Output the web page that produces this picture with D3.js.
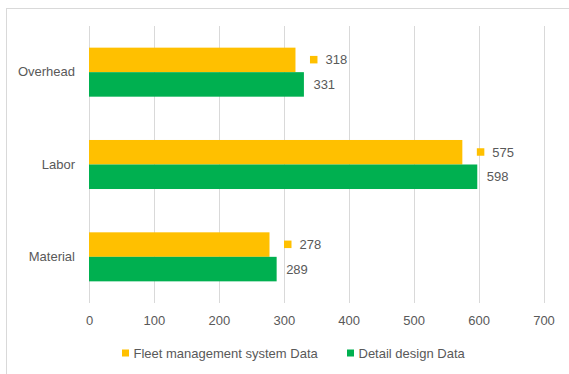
<!DOCTYPE html>
<html>
<head>
<meta charset="utf-8">
<script src="https://cdn.jsdelivr.net/npm/d3@7"></script>
<style>
  html, body { margin: 0; padding: 0; background: #fff; }
  svg { display: block; font-family: "Liberation Sans", Arial, sans-serif; }
</style>
</head>
<body>
<svg id="chart" width="569" height="374"></svg>
<script>
// Cost categories, top to bottom
const categories = ["Overhead", "Labor", "Material"];
// Series values per category
const fleetValues = [318, 575, 278];
const detailValues = [331, 598, 289];
// Series names
const seriesNames = ["Fleet management system Data", "Detail design Data"];
// Axis ticks
const xTicks = [0, 100, 200, 300, 400, 500, 600, 700];

const colors = ["#FFC000", "#00B050"];
const textColor = "#595959";
const gridColor = "#d9d9d9";

const svg = d3.select("#chart");

// Chart frame
svg.append("rect")
  .attr("x", 6.5).attr("y", 8.5)
  .attr("width", 600).attr("height", 400)
  .attr("fill", "none").attr("stroke", gridColor);

const x = d3.scaleLinear().domain([0, 700]).range([89, 543.5]);
const y = d3.scaleBand().domain(categories).range([26, 303])
  .paddingInner(0.469).paddingOuter(0.2345);
const sub = d3.scaleBand().domain([0, 1]).range([0, y.bandwidth()]);

// Vertical gridlines
svg.append("g").selectAll("line").data(xTicks).join("line")
  .attr("x1", d => Math.round(x(d)) + 0.5).attr("x2", d => Math.round(x(d)) + 0.5)
  .attr("y1", 26).attr("y2", 303)
  .attr("stroke", gridColor).attr("stroke-width", 1);

// Bottom axis labels
const xAxis = d3.axisBottom(x).tickValues(xTicks).tickSize(0).tickPadding(0);
const gx = svg.append("g").attr("transform", "translate(0,316)").call(xAxis);
gx.select(".domain").remove();
gx.selectAll("text")
  .attr("fill", textColor).attr("font-size", 13).attr("dy", "0.71em")
  .attr("font-family", "Liberation Sans, Arial, sans-serif");

// Category labels
const yAxis = d3.axisLeft(y).tickSize(0).tickPadding(0);
const gy = svg.append("g").attr("transform", "translate(75,0)").call(yAxis);
gy.select(".domain").remove();
gy.selectAll("text")
  .attr("fill", textColor).attr("font-size", 13)
  .attr("font-family", "Liberation Sans, Arial, sans-serif");

const rows = categories.map((c, i) => ({ cat: c, vals: [fleetValues[i], detailValues[i]] }));

// Bars
rows.forEach(r => {
  r.vals.forEach((v, s) => {
    svg.append("rect")
      .attr("x", x(0))
      .attr("y", y(r.cat) + sub(s))
      .attr("width", x(v) - x(0))
      .attr("height", sub.bandwidth())
      .attr("fill", colors[s]);
  });
});

// Value labels (first series carries a small legend key)
rows.forEach(r => {
  r.vals.forEach((v, s) => {
    const cy = y(r.cat) + sub(s) + sub.bandwidth() / 2;
    if (s === 0) {
      svg.append("rect")
        .attr("x", x(v) + 14.5).attr("y", cy - 4)
        .attr("width", 7.5).attr("height", 7.5)
        .attr("fill", colors[s]);
      svg.append("text")
        .attr("x", x(v) + 30).attr("y", cy).attr("dy", "0.35em")
        .attr("fill", textColor).attr("font-size", 13).text(v);
    } else {
      svg.append("text")
        .attr("x", x(v) + 9.5).attr("y", cy).attr("dy", "0.35em")
        .attr("fill", textColor).attr("font-size", 13).text(v);
    }
  });
});

// Legend
const legendX = [122, 347];
seriesNames.forEach((name, i) => {
  const g = svg.append("g").attr("transform", `translate(${legendX[i]},353)`);
  g.append("rect").attr("x", 0).attr("y", -3.5).attr("width", 7).attr("height", 7).attr("fill", colors[i]);
  g.append("text").attr("x", 11.5).attr("y", 0).attr("dy", "0.35em")
    .attr("fill", textColor).attr("font-size", 13).text(name);
});
</script>
</body>
</html>
